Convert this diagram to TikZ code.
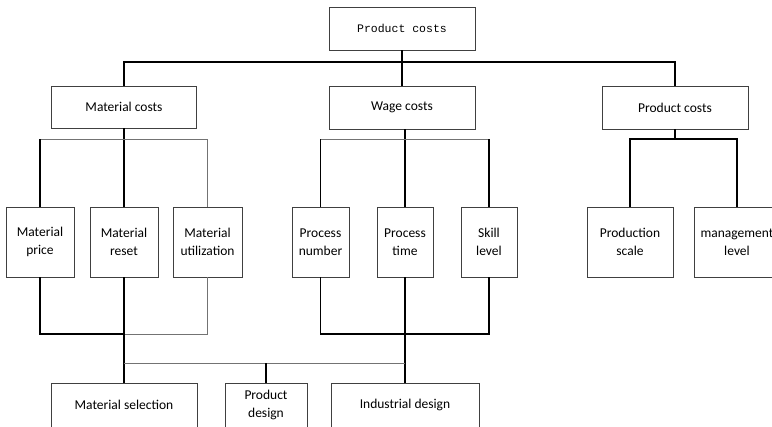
\documentclass[tikz,border=0pt]{standalone}
\usepackage{fontspec}
\setmainfont{Carlito}
\newfontfamily\monof{Liberation Mono}
\begin{document}
\begin{tikzpicture}[x=1pt,y=-1pt,
  box/.style={draw=black!75,line width=0.9pt,rectangle,align=center,inner sep=0pt,
    font=\fontsize{13.5}{18}\selectfont,text=black},
  thick line/.style={draw=black,line width=1.3pt},
  thin line/.style={draw=black!55,line width=0.9pt}]
\fill[white] (0,0) rectangle (772,427);
\useasboundingbox (0,0) rectangle (772,427);
\clip (0,0) rectangle (772,427);
% nodes
\node[box,minimum width=146pt,minimum height=43pt,font=\monof\fontsize{11.5}{14}\selectfont] (top) at (402,28.5) {Product costs};
\node[box,minimum width=145pt,minimum height=42pt] (mat) at (124,107) {Material costs};
\node[box,minimum width=146pt,minimum height=43pt] (wage) at (402,107.5) {Wage costs};
\node[box,minimum width=146pt,minimum height=43pt] (prod) at (675,107.5) {Product costs};
\node[box,minimum width=68pt,minimum height=70pt] (mprice) at (40,242) {Material\\price};
\node[box,minimum width=68pt,minimum height=70pt] (mreset) at (124,242) {Material\\reset};
\node[box,minimum width=69pt,minimum height=70pt] (mutil) at (207.5,242) {Material\\utilization};
\node[box,minimum width=57pt,minimum height=70pt] (pnum) at (320.5,242) {Process\\number};
\node[box,minimum width=56pt,minimum height=70pt] (ptime) at (405,242) {Process\\time};
\node[box,minimum width=56pt,minimum height=70pt] (skill) at (489,242) {Skill\\level};
\node[box,minimum width=86pt,minimum height=70pt] (pscale) at (630,242) {Production\\scale};
\node[box,minimum width=86pt,minimum height=70pt] (mlevel) at (737,242) {management\\level};
\node[box,minimum width=146pt,minimum height=44pt] (msel) at (124,405) {Material selection};
\node[box,minimum width=82pt,minimum height=44pt] (pdes) at (266,405) {Product\\design};
\node[box,minimum width=148pt,minimum height=44pt] (ides) at (405,405) {Industrial design};
% levels
\coordinate (h0) at (0,62);
\coordinate (h1) at (0,139);
\coordinate (h2) at (0,334);
\coordinate (h3) at (0,363);
% top level
\draw[thick line] (top.south) -- (top.south |- h0);
\draw[thick line] (mat.north) |- (prod.north |- h0) -- (prod.north);
\draw[thick line] (wage.north) -- (wage.north |- h0);
% material group
\draw[thick line] (mat.south) -- (mreset.north);
\draw[thin line] (mprice.north) |- (mutil.north |- h1) -- (mutil.north);
\draw[thick line] (mprice.north) -- (mprice.north |- h1);
\draw[thick line] (mprice.south) |- (mreset.south |- h2);
\draw[thin line] (mreset.south |- h2) -| (mutil.south);
\draw[thick line] (mreset.south) -- (msel.north);
% wage group
\draw[thick line] (ptime.north) -- (ptime.north |- wage.south);
\draw[thin line] (pnum.north) |- (skill.north |- h1);
\draw[thick line] (pnum.north) -- (pnum.north |- h1);
\draw[thick line] (skill.north) -- (skill.north |- h1);
\draw[thick line] (pnum.south) |- (skill.south |- h2) -- (skill.south);
\draw[thick line] (ptime.south) -- (ides.north);
% product group
\draw[thick line] (prod.south) -- (prod.south |- h1);
\draw[thick line] (pscale.north) |- (mlevel.north |- h1) -- (mlevel.north);
% bottom connector
\draw[thin line] (mreset.south |- h3) -- (ides.north |- h3);
\draw[thick line] (pdes.north) -- (pdes.north |- h3);
\end{tikzpicture}
\end{document}
